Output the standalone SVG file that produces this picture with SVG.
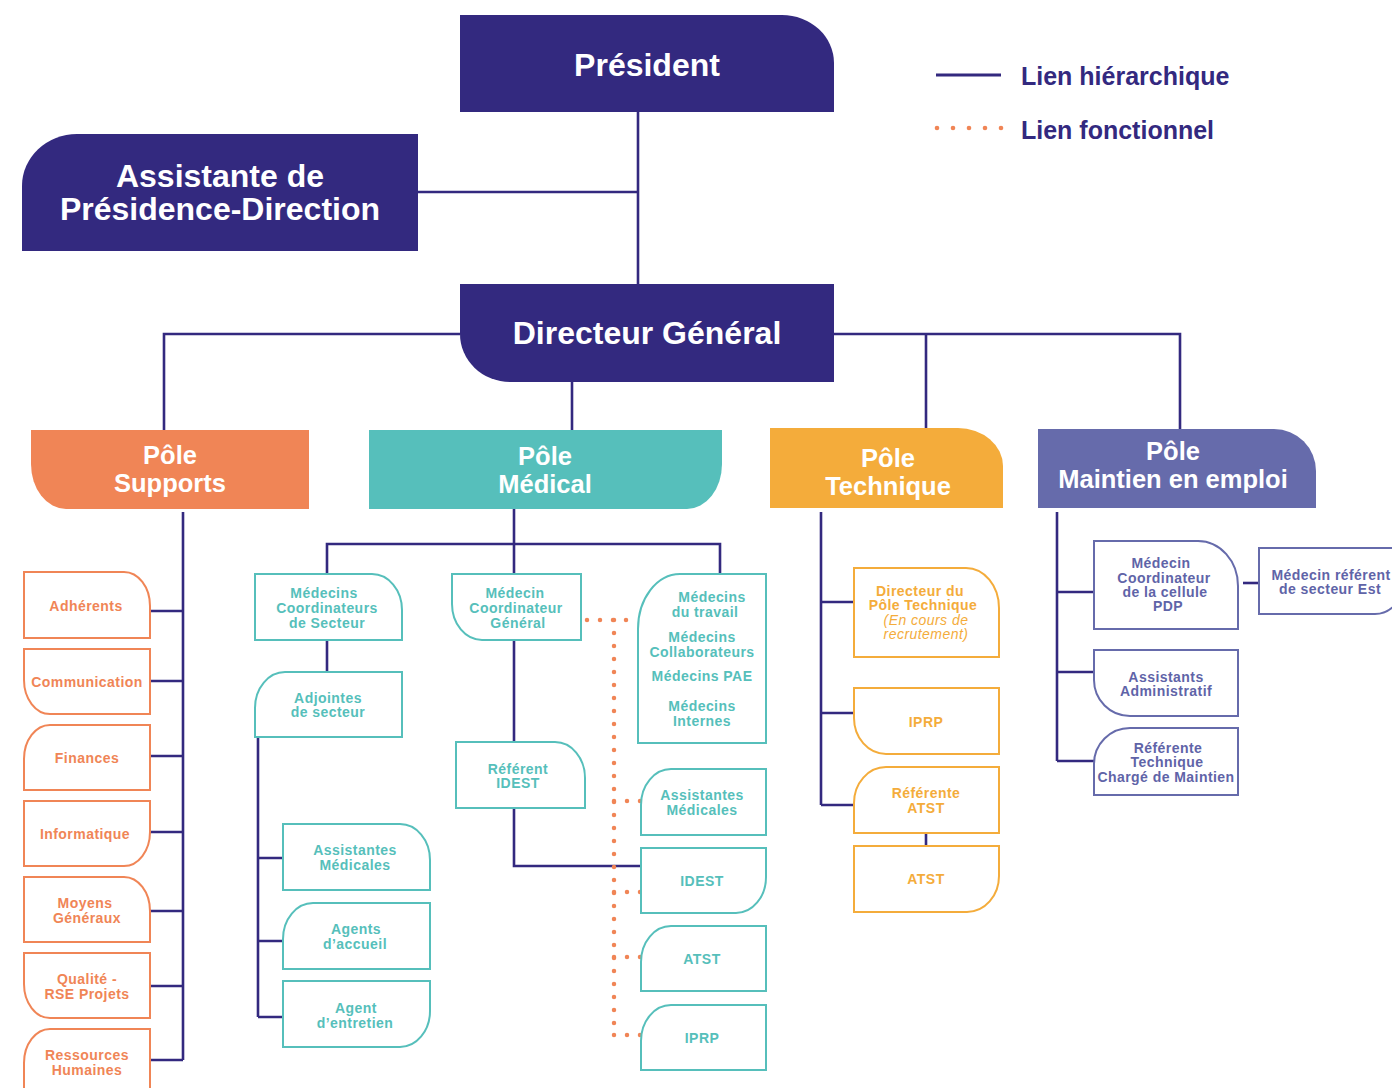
<svg xmlns="http://www.w3.org/2000/svg" width="1392" height="1088" viewBox="0 0 1392 1088">
<style>
.bg{fill:#ffffff}
.nav{fill:#33297f}
.conn{stroke:#33297f;stroke-width:2.6;fill:none}
.dot{stroke:#f08556;stroke-width:4.5;stroke-linecap:round;stroke-dasharray:0 13;fill:none}
.ld{fill:#f08556}
.bs{fill:#fff;stroke:#f08556;stroke-width:2}
.bm{fill:#fff;stroke:#56bfbb;stroke-width:2}
.bt{fill:#fff;stroke:#f4ac3b;stroke-width:2}
.bp{fill:#fff;stroke:#666bab;stroke-width:2}
text{font-family:"Liberation Sans",Arial,sans-serif;font-weight:bold;text-anchor:middle}
.big{font-size:32px;fill:#fff}
.pole{font-size:25.5px;fill:#fff}
.leg{font-size:25px;fill:#33297f;text-anchor:start}
.s,.m,.t,.p{font-size:14px;letter-spacing:0.45px}
.s{fill:#f08556}
.m{fill:#56bfbb}
.t{fill:#f4ac3b}
.it{font-weight:normal;font-style:italic}
.p{fill:#5f64a8}
</style>
<rect class="bg" x="0" y="0" width="1392" height="1088"/>

<g id="connectors">
  <path class="conn" d="M638 112 V284"/>
  <path class="conn" d="M418 192 H638"/>
  <path class="conn" d="M164 430 V334 H460"/>
  <path class="conn" d="M834 334 H1180 V429"/>
  <path class="conn" d="M926 334 V428"/>
  <path class="conn" d="M572 382 V430"/>
  <!-- Supports -->
  <path class="conn" d="M183 512 V1060"/>
  <path class="conn" d="M150 611 H183 M150 681 H183 M150 756 H183 M150 832 H183 M150 911 H183 M150 986 H183 M150 1060 H183"/>
  <!-- Medical -->
  <path class="conn" d="M514 509 V574"/>
  <path class="conn" d="M327 574 V544 H720 V574"/>
  <path class="conn" d="M327 640 V672"/>
  <path class="conn" d="M514 640 V742"/>
  <path class="conn" d="M514 808 V866 H641"/>
  <path class="conn" d="M258 737 V1017"/>
  <path class="conn" d="M258 858 H283 M258 941 H283 M258 1017 H283"/>
  <!-- Technique -->
  <path class="conn" d="M821 512 V805"/>
  <path class="conn" d="M821 602 H854 M821 713 H854 M821 805 H854"/>
  <path class="conn" d="M926 833 V846"/>
  <!-- Maintien -->
  <path class="conn" d="M1057 512 V761"/>
  <path class="conn" d="M1057 592 H1094 M1057 672 H1094 M1057 761 H1094"/>
  <path class="conn" d="M1243 583 H1258"/>
  <!-- functional links -->
  <path class="dot" d="M587 620 H638"/>
  <path class="dot" d="M614 620 V1035"/>
  <path class="dot" d="M614 801 H641"/>
  <path class="dot" d="M614 892 H641"/>
  <path class="dot" d="M614 957 H641"/>
  <path class="dot" d="M614 1035 H641"/>
</g>

<g id="legend">
  <path class="conn" d="M936 75 H1001" style="stroke-width:3"/>
  <text class="leg" x="1021" y="85">Lien hiérarchique</text>
  <circle class="ld" cx="937" cy="128" r="2.3"/>
  <circle class="ld" cx="953" cy="128" r="2.3"/>
  <circle class="ld" cx="969" cy="128" r="2.3"/>
  <circle class="ld" cx="985" cy="128" r="2.3"/>
  <circle class="ld" cx="1001" cy="128" r="2.3"/>
  <text class="leg" x="1021" y="139">Lien fonctionnel</text>
</g>

<g id="president">
  <path class="nav" d="M460 15 H782 A52 48 0 0 1 834 63 V112 H460 Z"/>
  <text class="big" x="647" y="76">Président</text>
</g>
<g id="assistante">
  <path class="nav" d="M77 134 H418 V251 H22 V186 A55 52 0 0 1 77 134 Z"/>
  <text class="big" x="220" y="187">Assistante de</text>
  <text class="big" x="220" y="220">Présidence-Direction</text>
</g>
<g id="dg">
  <path class="nav" d="M460 284 H834 V382 H510 A50 48 0 0 1 460 334 Z"/>
  <text class="big" x="647" y="344">Directeur Général</text>
</g>

<g id="pole-supports">
  <path d="M31 430 H309 V509 H66 A35 45 0 0 1 31 464 Z" fill="#f08556"/>
  <text class="pole" x="170" y="464">Pôle</text>
  <text class="pole" x="170" y="492">Supports</text>
</g>
<g id="pole-medical">
  <path d="M369 430 H722 V464 A35 45 0 0 1 687 509 H369 Z" fill="#56bfbb"/>
  <text class="pole" x="545" y="465">Pôle</text>
  <text class="pole" x="545" y="493">Médical</text>
</g>
<g id="pole-technique">
  <path d="M770 428 H958 A45 38 0 0 1 1003 466 V508 H770 Z" fill="#f4ac3b"/>
  <text class="pole" x="888" y="467">Pôle</text>
  <text class="pole" x="888" y="495">Technique</text>
</g>
<g id="pole-maintien">
  <path d="M1038 429 H1274 A42 42 0 0 1 1316 471 V508 H1038 Z" fill="#666bab"/>
  <text class="pole" x="1173" y="460">Pôle</text>
  <text class="pole" x="1173" y="488">Maintien en emploi</text>
</g>

<!-- Supports children -->
<g id="adherents">
  <path class="bs" d="M24 572 H124 A26 34 0 0 1 150 606 V638 H24 Z"/>
  <text class="s" x="86" y="611">Adhérents</text>
</g>
<g id="communication">
  <path class="bs" d="M24 649 H150 V714 H50 A26 34 0 0 1 24 680 Z"/>
  <text class="s" x="87" y="687">Communication</text>
</g>
<g id="finances">
  <path class="bs" d="M50 725 H150 V790 H24 V759 A26 34 0 0 1 50 725 Z"/>
  <text class="s" x="87" y="763">Finances</text>
</g>
<g id="informatique">
  <path class="bs" d="M24 801 H150 V832 A26 34 0 0 1 124 866 H24 Z"/>
  <text class="s" x="85" y="839">Informatique</text>
</g>
<g id="moyens">
  <path class="bs" d="M24 877 H124 A26 34 0 0 1 150 911 V942 H24 Z"/>
  <text class="s" x="85" y="908">Moyens</text>
  <text class="s" x="87" y="923">Généraux</text>
</g>
<g id="qualite">
  <path class="bs" d="M24 953 H150 V1018 H50 A26 34 0 0 1 24 984 Z"/>
  <text class="s" x="87" y="984">Qualité -</text>
  <text class="s" x="87" y="999">RSE Projets</text>
</g>
<g id="rh">
  <path class="bs" d="M50 1029 H150 V1096 H24 V1063 A26 34 0 0 1 50 1029 Z"/>
  <text class="s" x="87" y="1060">Ressources</text>
  <text class="s" x="87" y="1075">Humaines</text>
</g>

<!-- Medical children -->
<g id="med-coord-secteur">
  <path class="bm" d="M255 574 H372 A30 36 0 0 1 402 610 V640 H255 Z"/>
  <text class="m" x="324" y="598">Médecins</text>
  <text class="m" x="327" y="613">Coordinateurs</text>
  <text class="m" x="327" y="628">de Secteur</text>
</g>
<g id="med-coord-general">
  <path class="bm" d="M452 574 H581 V640 H482 A30 36 0 0 1 452 604 Z"/>
  <text class="m" x="515" y="598">Médecin</text>
  <text class="m" x="516" y="613">Coordinateur</text>
  <text class="m" x="518" y="628">Général</text>
</g>
<g id="adjointes">
  <path class="bm" d="M285 672 H402 V737 H255 V708 A30 36 0 0 1 285 672 Z"/>
  <text class="m" x="328" y="703">Adjointes</text>
  <text class="m" x="328" y="717">de secteur</text>
</g>
<g id="referent-idest">
  <path class="bm" d="M456 742 H555 A30 36 0 0 1 585 778 V808 H456 Z"/>
  <text class="m" x="518" y="774">Référent</text>
  <text class="m" x="518" y="788">IDEST</text>
</g>
<g id="assistantes-med-left">
  <path class="bm" d="M283 824 H400 A30 36 0 0 1 430 860 V890 H283 Z"/>
  <text class="m" x="355" y="855">Assistantes</text>
  <text class="m" x="355" y="870">Médicales</text>
</g>
<g id="agents-accueil">
  <path class="bm" d="M313 903 H430 V969 H283 V939 A30 36 0 0 1 313 903 Z"/>
  <text class="m" x="356" y="934">Agents</text>
  <text class="m" x="355" y="949">d’accueil</text>
</g>
<g id="agent-entretien">
  <path class="bm" d="M283 981 H430 V1011 A30 36 0 0 1 400 1047 H283 Z"/>
  <text class="m" x="356" y="1013">Agent</text>
  <text class="m" x="355" y="1028">d’entretien</text>
</g>
<g id="medecins">
  <path class="bm" d="M680 574 H766 V743 H638 V629 A42 55 0 0 1 680 574 Z"/>
  <text class="m" x="712" y="602">Médecins</text>
  <text class="m" x="705" y="617">du travail</text>
  <text class="m" x="702" y="642">Médecins</text>
  <text class="m" x="702" y="657">Collaborateurs</text>
  <text class="m" x="702" y="681">Médecins PAE</text>
  <text class="m" x="702" y="711">Médecins</text>
  <text class="m" x="702" y="726">Internes</text>
</g>
<g id="assistantes-med-right">
  <path class="bm" d="M671 769 H766 V835 H641 V805 A30 36 0 0 1 671 769 Z"/>
  <text class="m" x="702" y="800">Assistantes</text>
  <text class="m" x="702" y="815">Médicales</text>
</g>
<g id="idest">
  <path class="bm" d="M641 848 H766 V877 A30 36 0 0 1 736 913 H641 Z"/>
  <text class="m" x="702" y="886">IDEST</text>
</g>
<g id="atst-med">
  <path class="bm" d="M671 926 H766 V991 H641 V962 A30 36 0 0 1 671 926 Z"/>
  <text class="m" x="702" y="964">ATST</text>
</g>
<g id="iprp-med">
  <path class="bm" d="M671 1005 H766 V1070 H641 V1041 A30 36 0 0 1 671 1005 Z"/>
  <text class="m" x="702" y="1043">IPRP</text>
</g>

<!-- Technique children -->
<g id="directeur-technique">
  <path class="bt" d="M854 568 H966 A33 40 0 0 1 999 608 V657 H854 Z"/>
  <text class="t" x="920" y="596">Directeur du</text>
  <text class="t" x="923" y="610">Pôle Technique</text>
  <text class="t it" x="926" y="625">(En cours de</text>
  <text class="t it" x="926" y="639">recrutement)</text>
</g>
<g id="iprp-tech">
  <path class="bt" d="M854 688 H999 V754 H886 A32 36 0 0 1 854 718 Z"/>
  <text class="t" x="926" y="727">IPRP</text>
</g>
<g id="referente-atst">
  <path class="bt" d="M886 767 H999 V833 H854 V803 A32 36 0 0 1 886 767 Z"/>
  <text class="t" x="926" y="798">Référente</text>
  <text class="t" x="926" y="813">ATST</text>
</g>
<g id="atst-tech">
  <path class="bt" d="M854 846 H999 V876 A32 36 0 0 1 967 912 H854 Z"/>
  <text class="t" x="926" y="884">ATST</text>
</g>

<!-- Maintien children -->
<g id="medecin-pdp">
  <path class="bp" d="M1094 541 H1198 A40 45 0 0 1 1238 586 V629 H1094 Z"/>
  <text class="p" x="1161" y="568">Médecin</text>
  <text class="p" x="1164" y="583">Coordinateur</text>
  <text class="p" x="1165" y="597">de la cellule</text>
  <text class="p" x="1168" y="611">PDP</text>
</g>
<g id="medecin-referent-est">
  <path class="bp" d="M1259 548 H1405 V578 A30 36 0 0 1 1375 614 H1259 Z"/>
  <text class="p" x="1331" y="580">Médecin référent</text>
  <text class="p" x="1330" y="594">de secteur Est</text>
</g>
<g id="assistants-admin">
  <path class="bp" d="M1094 650 H1238 V716 H1130 A36 36 0 0 1 1094 680 Z"/>
  <text class="p" x="1166" y="682">Assistants</text>
  <text class="p" x="1166" y="696">Administratif</text>
</g>
<g id="referente-technique">
  <path class="bp" d="M1130 728 H1238 V795 H1094 V764 A36 36 0 0 1 1130 728 Z"/>
  <text class="p" x="1168" y="753">Référente</text>
  <text class="p" x="1167" y="767">Technique</text>
  <text class="p" x="1166" y="782">Chargé de Maintien</text>
</g>
</svg>
